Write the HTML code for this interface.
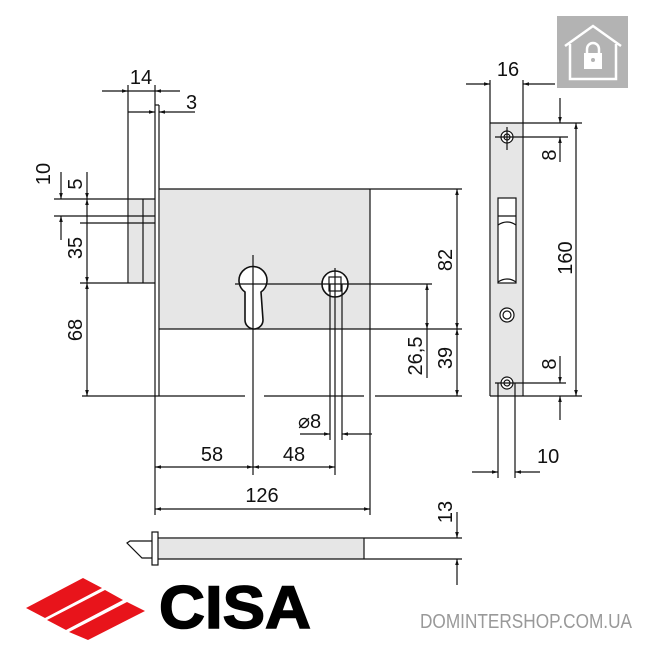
<!DOCTYPE html>
<html><head><style>
html,body{margin:0;padding:0;background:#fff;width:650px;height:650px;overflow:hidden}
svg{display:block}
text{font-family:"Liberation Sans",sans-serif;fill:#111}
</style></head><body>
<svg width="650" height="650" viewBox="0 0 650 650" xmlns="http://www.w3.org/2000/svg">
<defs>
<marker id="a" viewBox="0 0 10 10" refX="10" refY="5" markerWidth="6" markerHeight="5" orient="auto-start-reverse"><path d="M0,2 L10,5 L0,8z" fill="#111"/></marker>
</defs>
<g stroke="#111" stroke-width="1.2" fill="none">
<rect x="160" y="189" width="210" height="140" fill="#e6e6e6" stroke="none"/>
<line x1="159" y1="189" x2="462" y2="189"/>
<line x1="159" y1="329" x2="462" y2="329"/>
<line x1="370" y1="189" x2="370" y2="515"/>
<line x1="155" y1="85" x2="155" y2="515"/>
<line x1="159" y1="105" x2="159" y2="396"/>
<line x1="155" y1="105" x2="159" y2="105"/>
<rect x="129" y="199" width="25" height="84" fill="#e6e6e6" stroke="none"/>
<line x1="128" y1="85" x2="128" y2="283"/>
<line x1="143" y1="199" x2="143" y2="283"/>
<line x1="54" y1="199" x2="155" y2="199"/>
<line x1="54" y1="216" x2="155" y2="216"/>
<line x1="80" y1="223" x2="155" y2="223"/>
<line x1="80" y1="283" x2="155" y2="283"/>
<line x1="82" y1="396" x2="245" y2="396"/>
<line x1="264" y1="396" x2="364" y2="396"/>
<line x1="375" y1="396" x2="462" y2="396"/>
<path d="M245,292 A14,14 0 1 1 261,292 L263,320 A9,9 0 0 1 245,320 Z" fill="#fff" stroke-width="1.6"/>
<line x1="253" y1="255" x2="253" y2="475"/>
<line x1="235" y1="284" x2="272" y2="284"/>
<circle cx="335" cy="284" r="13" fill="#fff" stroke-width="1.6"/>
<rect x="329" y="277" width="12" height="14"/>
<line x1="272" y1="284" x2="432" y2="284"/>
<line x1="330" y1="284" x2="330" y2="440"/>
<line x1="335" y1="268" x2="335" y2="475"/>
<line x1="342" y1="284" x2="342" y2="440"/>
<line x1="427" y1="284" x2="427" y2="329" marker-start="url(#a)" marker-end="url(#a)"/>
<line x1="427" y1="329" x2="427" y2="378"/>
<line x1="457" y1="189" x2="457" y2="329" marker-start="url(#a)" marker-end="url(#a)"/>
<line x1="457" y1="329" x2="457" y2="396" marker-start="url(#a)" marker-end="url(#a)"/>
<line x1="87" y1="172" x2="87" y2="199" marker-end="url(#a)"/>
<line x1="87" y1="199" x2="87" y2="283" marker-start="url(#a)" marker-end="url(#a)"/>
<line x1="87" y1="283" x2="87" y2="396" marker-start="url(#a)" marker-end="url(#a)"/>
<line x1="61" y1="172" x2="61" y2="199" marker-end="url(#a)"/>
<line x1="61" y1="216" x2="61" y2="240" marker-start="url(#a)"/>
<line x1="102" y1="91" x2="128" y2="91" marker-end="url(#a)"/>
<line x1="155" y1="91" x2="180" y2="91" marker-start="url(#a)"/>
<line x1="128" y1="91" x2="155" y2="91"/>
<line x1="128" y1="112" x2="155" y2="112" marker-end="url(#a)"/>
<line x1="159" y1="112" x2="195" y2="112" marker-start="url(#a)"/>
<line x1="300" y1="434" x2="330" y2="434" marker-end="url(#a)"/>
<line x1="342" y1="434" x2="372" y2="434" marker-start="url(#a)"/>
<line x1="155" y1="467" x2="253" y2="467" marker-start="url(#a)" marker-end="url(#a)"/>
<line x1="253" y1="467" x2="335" y2="467" marker-start="url(#a)" marker-end="url(#a)"/>
<line x1="155" y1="509" x2="370" y2="509" marker-start="url(#a)" marker-end="url(#a)"/>
<rect x="491" y="123" width="31" height="273" fill="#e6e6e6" stroke="none"/>
<line x1="490" y1="80" x2="490" y2="396"/>
<line x1="523" y1="80" x2="523" y2="396"/>
<line x1="490" y1="123" x2="582" y2="123"/>
<line x1="490" y1="396" x2="582" y2="396"/>
<line x1="466" y1="84" x2="490" y2="84" marker-end="url(#a)"/>
<line x1="523" y1="84" x2="555" y2="84" marker-start="url(#a)"/>
<rect x="498" y="198" width="18" height="85" fill="#fff"/>
<line x1="498" y1="216" x2="516" y2="216"/>
<path d="M498,225 Q507,219 516,225 M498,282 Q507,276 516,282"/>
<circle cx="507" cy="315" r="7" fill="#fff"/><circle cx="507" cy="315" r="4"/>
<circle cx="507" cy="137" r="6" fill="#fff"/><circle cx="507" cy="137" r="3"/>
<circle cx="507" cy="383" r="6" fill="#fff"/><circle cx="507" cy="383" r="3"/>
<line x1="495" y1="137" x2="568" y2="137"/>
<line x1="495" y1="383" x2="566" y2="383"/>
<line x1="507" y1="127" x2="507" y2="150"/>
<line x1="498" y1="383" x2="498" y2="478"/>
<line x1="515" y1="383" x2="515" y2="478"/>
<line x1="560" y1="98" x2="560" y2="123" marker-end="url(#a)"/>
<line x1="560" y1="137" x2="560" y2="162" marker-start="url(#a)"/>
<line x1="560" y1="356" x2="560" y2="383" marker-end="url(#a)"/>
<line x1="560" y1="396" x2="560" y2="420" marker-start="url(#a)"/>
<line x1="576" y1="123" x2="576" y2="396" marker-start="url(#a)" marker-end="url(#a)"/>
<line x1="472" y1="472" x2="498" y2="472" marker-end="url(#a)"/>
<line x1="515" y1="472" x2="540" y2="472" marker-start="url(#a)"/>
<rect x="158" y="539" width="206" height="20" fill="#e6e6e6" stroke="none"/>
<line x1="158" y1="538" x2="462" y2="538"/>
<line x1="158" y1="559" x2="462" y2="559"/>
<line x1="364" y1="538" x2="364" y2="559"/>
<rect x="152" y="532" width="6" height="33" fill="#fff"/>
<path d="M152,541 L130,541 L127,543 L142,558 L152,558"/>
<line x1="457" y1="512" x2="457" y2="538" marker-end="url(#a)"/>
<line x1="457" y1="559" x2="457" y2="585" marker-start="url(#a)"/>
</g>
<g font-size="20">
<text x="141" y="84" text-anchor="middle">14</text>
<text x="186" y="109">3</text>
<text x="508" y="76" text-anchor="middle">16</text>
<text x="537" y="463">10</text>
<text x="212" y="461" text-anchor="middle">58</text>
<text x="294" y="461" text-anchor="middle">48</text>
<text x="262" y="502" text-anchor="middle">126</text>
<text x="298" y="428">⌀8</text>
<text transform="translate(50,174) rotate(-90)" text-anchor="middle">10</text>
<text transform="translate(82,184) rotate(-90)" text-anchor="middle">5</text>
<text transform="translate(82,248) rotate(-90)" text-anchor="middle">35</text>
<text transform="translate(82,330) rotate(-90)" text-anchor="middle">68</text>
<text transform="translate(452,260) rotate(-90)" text-anchor="middle">82</text>
<text transform="translate(452,358) rotate(-90)" text-anchor="middle">39</text>
<text transform="translate(422,356) rotate(-90)" text-anchor="middle">26,5</text>
<text transform="translate(572,258) rotate(-90)" text-anchor="middle">160</text>
<text transform="translate(556,155) rotate(-90)" text-anchor="middle">8</text>
<text transform="translate(556,364) rotate(-90)" text-anchor="middle">8</text>
<text transform="translate(452,512) rotate(-90)" text-anchor="middle">13</text>
</g>
<rect x="557" y="16" width="71" height="72" fill="#b3b3b3"/>
<path d="M565,46 L593,26 L621,46 M570,44 L570,79 L616,79 L616,44" stroke="#fff" stroke-width="2.5" fill="none"/>
<path d="M587,53 V49 A6,6 0 0 1 599,49 V53" stroke="#fff" stroke-width="2.5" fill="none"/>
<rect x="584" y="53" width="18" height="16" fill="#fff"/>
<circle cx="593" cy="60" r="2" fill="#b3b3b3"/>
<g fill="#e8141b">
<polygon points="26,608 83,578 102,588 45,618"/>
<polygon points="47,620 105,590 123,600 66,630"/>
<polygon points="69,632 127,602 145,611 88,640"/>
</g>
<text x="159" y="628" font-family="Liberation Sans,sans-serif" font-weight="bold" font-size="60" textLength="152" lengthAdjust="spacingAndGlyphs" style="fill:#000;stroke:#000;stroke-width:1.5">CISA</text>
<text x="420" y="628" font-family="Liberation Sans,sans-serif" font-size="20" textLength="212" lengthAdjust="spacingAndGlyphs" style="fill:#999">DOMINTERSHOP.COM.UA</text>
</svg>
</body></html>
